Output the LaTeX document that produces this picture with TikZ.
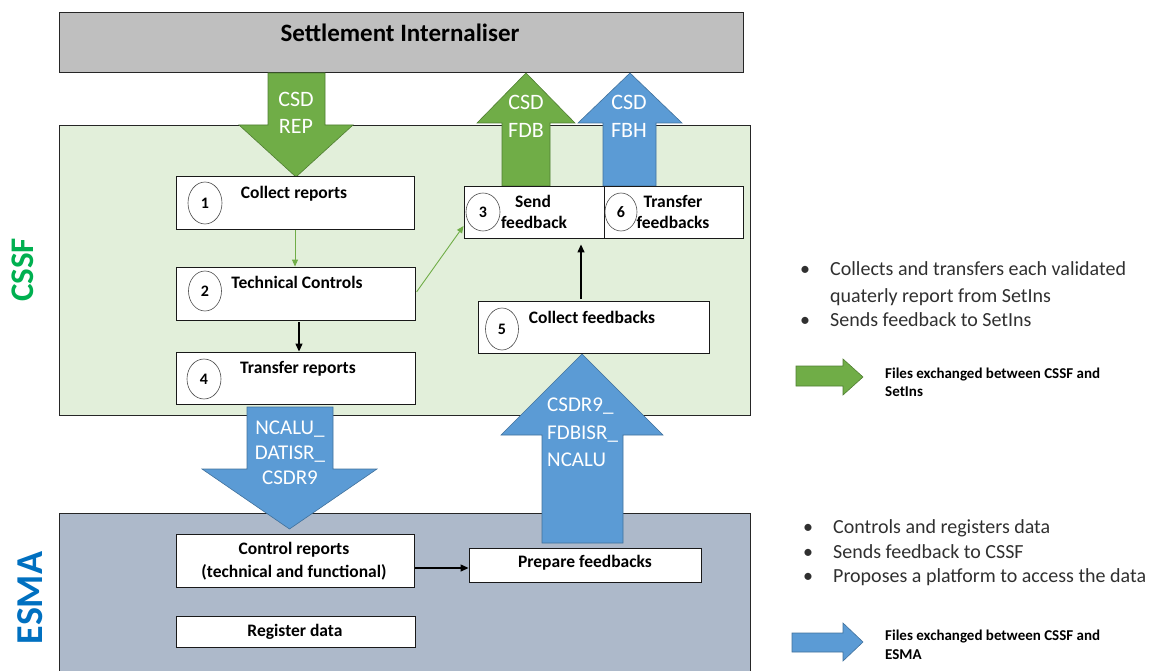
\documentclass[tikz,border=0pt]{standalone}
\usepackage{fontspec}
\setmainfont{Carlito}
\usetikzlibrary{shapes.geometric,arrows.meta}
\definecolor{cssfbg}{HTML}{E2EFDA}
\definecolor{esmabg}{HTML}{ADB9CA}
\definecolor{titlebg}{HTML}{BFBFBF}
\definecolor{agreen}{HTML}{70AD47}
\definecolor{agreenb}{HTML}{507E32}
\definecolor{ablue}{HTML}{5B9BD5}
\definecolor{ablueb}{HTML}{41719C}
\definecolor{cssftxt}{HTML}{00B050}
\definecolor{esmatxt}{HTML}{0070C0}
\definecolor{bodytxt}{HTML}{303030}
\begin{document}
\begin{tikzpicture}[x=1pt,y=-1pt,
  region/.style={draw=black!85, line width=0.9pt, inner sep=0, anchor=center},
  wbox/.style={draw=black!90, fill=white, line width=0.9pt, inner sep=0},
  numc/.style={ellipse, draw=black!70, fill=white, line width=0.6pt, inner sep=0, font=\fontsize{16}{18}\selectfont\bfseries},
  btxt/.style={inner sep=0, yshift=-1.5pt, font=\fontsize{17.5}{20}\selectfont\bfseries, text height=11.2pt, text depth=3.2pt},
  wtxt/.style={inner sep=0, text=white, font=\fontsize{22}{24}\selectfont, text height=14pt, text depth=0pt},
  wtxts/.style={inner sep=0, text=white, font=\fontsize{21}{24}\selectfont, text height=13.5pt, text depth=0pt},
  bul/.style={inner sep=0, anchor=west, yshift=-1.5pt, text=bodytxt, font=\fontsize{20}{24}\selectfont, text height=13pt, text depth=4pt},
  leg/.style={inner sep=0, anchor=west, text=black, font=\fontsize{15}{18}\selectfont\bfseries, text height=9.6pt, text depth=3pt},
  garrowshape/.style={fill=agreen, draw=agreenb, line width=0.6pt},
  barrowshape/.style={fill=ablue, draw=ablueb, line width=0.6pt},
  gconn/.style={draw=agreen, line width=0.9pt, -{Triangle[length=7pt,width=6pt]}},
  kconn/.style={draw=black, line width=1.3pt, -{Triangle[length=8pt,width=7pt]}}
]
\useasboundingbox (0,0) rectangle (1162,671);

% regions
\node[region, fill=titlebg, minimum width=684pt, minimum height=60pt] (top) at (401,42) {};
\node[inner sep=0, font=\fontsize{25}{28}\selectfont\bfseries] (toptxt) at (400,33) {Settlement Internaliser};
\node[region, fill=cssfbg, minimum width=691pt, minimum height=290pt] (cssf) at (404.5,270) {};
\node[region, fill=esmabg, minimum width=691pt, minimum height=160pt] (esma) at (404.5,593) {};

\node[rotate=90, inner sep=0, text=cssftxt, font=\fontsize{33}{36}\selectfont\bfseries] (cssflab) at (23,270) {CSSF};
\node[rotate=90, inner sep=0, text=esmatxt, font=\fontsize{38}{40}\selectfont\bfseries] (esmalab) at (30.5,598) {ESMA};

% block arrows
\path[garrowshape] (268,73) -- (325,73) -- (325,125) -- (353,125) -- (296,177) -- (239,125) -- (268,125) -- cycle;
\path[garrowshape] (502,186) -- (502,123) -- (477,123) -- (526,73) -- (575,123) -- (550,123) -- (550,186) -- cycle;
\path[barrowshape] (603,186) -- (603,123) -- (578,123) -- (630,73) -- (682,123) -- (656,123) -- (656,186) -- cycle;
\path[barrowshape] (247,407) -- (333,407) -- (333,469) -- (377,469) -- (289.5,529) -- (202,469) -- (247,469) -- cycle;
\path[barrowshape] (542,543) -- (542,435) -- (501,435) -- (582,354) -- (663,435) -- (623,435) -- (623,543) -- cycle;

\node[wtxt] (rep1) at (296,100) {CSD};
\node[wtxt] (rep2) at (296,127) {REP};
\node[wtxt] (fdb1) at (526,103) {CSD};
\node[wtxt] (fdb2) at (526,131) {FDB};
\node[wtxt] (fbh1) at (629,103) {CSD};
\node[wtxt] (fbh2) at (629,131) {FBH};
\node[wtxts] (dn1) at (290,428) {NCALU\_};
\node[wtxts] (dn2) at (290,453) {DATISR\_};
\node[wtxts] (dn3) at (290,478) {CSDR9};
\node[wtxts, anchor=west] (up1) at (547,405) {CSDR9\_};
\node[wtxts, anchor=west] (up2) at (547,433) {FDBISR\_};
\node[wtxts, anchor=west] (up3) at (547,460) {NCALU};

% CSSF boxes
\node[wbox, minimum width=238pt, minimum height=53pt] (b1) at (295,203) {};
\node[wbox, minimum width=239pt, minimum height=53pt] (b2) at (295.5,293.5) {};
\node[wbox, minimum width=239pt, minimum height=52pt] (b4) at (295.5,378) {};
\node[wbox, minimum width=140pt, minimum height=52pt] (b3) at (534,212) {};
\node[wbox, minimum width=139pt, minimum height=52pt] (b6) at (673.5,212) {};
\node[wbox, minimum width=231pt, minimum height=52pt] (b5) at (593.5,327.5) {};

\node[numc, minimum width=34pt, minimum height=42pt] (n1) at (205,203) {1};
\node[numc, minimum width=33pt, minimum height=40pt] (n2) at (205,291) {2};
\node[numc, minimum width=34pt, minimum height=40pt] (n4) at (204,379) {4};
\node[numc, minimum width=34pt, minimum height=38pt] (n3) at (483,212) {3};
\node[numc, minimum width=32pt, minimum height=38pt] (n6) at (621,212) {6};
\node[numc, minimum width=33pt, minimum height=42pt] (n5) at (502,329) {5};

\node[btxt] (t1) at (294,193) {Collect reports};
\node[btxt] (t2) at (297,283) {Technical Controls};
\node[btxt] (t4) at (298,368) {Transfer reports};
\node[btxt] (t3a) at (533,202) {Send};
\node[btxt] (t3b) at (534,223) {feedback};
\node[btxt] (t6a) at (673,202) {Transfer};
\node[btxt] (t6b) at (673,223) {feedbacks};
\node[btxt] (t5) at (592,318) {Collect feedbacks};

% ESMA boxes
\node[wbox, minimum width=238pt, minimum height=53pt] (e1) at (295,560.5) {};
\node[wbox, minimum width=232pt, minimum height=34pt] (e2) at (585,565) {};
\node[wbox, minimum width=239pt, minimum height=31pt] (e3) at (295.5,631.5) {};
\node[btxt] (te1a) at (294,549) {Control reports};
\node[btxt] (te1b) at (294,572) {(technical and functional)};
\node[btxt] (te2) at (585,562) {Prepare feedbacks};
\node[btxt] (te3) at (295,631) {Register data};

% connectors
\draw[gconn] (b1.south) -- (b1.south |- b2.north);
\draw[gconn, shorten <=2pt] (b2.east) -- ([yshift=-14pt]b3.west);
\draw[kconn, shorten <=2pt] ([xshift=3.5pt]b2.south) -- ([xshift=3.5pt]b2.south |- b4.north);
\coordinate (k5) at ([xshift=-12.5pt]b5.north);
\draw[kconn, shorten <=2pt, shorten >=6pt] (k5) -- (k5 |- b3.south);
\coordinate (k6) at ([yshift=-3pt]e2.west);
\draw[kconn, shorten <=1pt] (k6 -| e1.east) -- (k6);

% right side text
\node[bul] (bu1) at (800,269) {•};
\node[bul] (c1a) at (830,269) {Collects and transfers each validated};
\node[bul] (c1b) at (830,296) {quaterly report from SetIns};
\node[bul] (bu2) at (800,320) {•};
\node[bul] (c2) at (830,320) {Sends feedback to SetIns};

\path[garrowshape] (796,366) -- (843,366) -- (843,359) -- (863,377) -- (843,395) -- (843,386) -- (796,386) -- cycle;
\node[leg] (lg1) at (885,375) {Files exchanged between CSSF and};
\node[leg] (lg2) at (885,393) {SetIns};

\node[bul] (bu3) at (803,527) {•};
\node[bul] (d1) at (833,527) {Controls and registers data};
\node[bul] (bu4) at (803,552) {•};
\node[bul] (d2) at (833,552) {Sends feedback to CSSF};
\node[bul] (bu5) at (803,576) {•};
\node[bul] (d3) at (833,576) {Proposes a platform to access the data};

\path[barrowshape] (792,633) -- (843,633) -- (843,623) -- (863,642) -- (843,661) -- (843,652) -- (792,652) -- cycle;
\node[leg] (lb1) at (885,637) {Files exchanged between CSSF and};
\node[leg] (lb2) at (885,656) {ESMA};
\end{tikzpicture}
\end{document}
